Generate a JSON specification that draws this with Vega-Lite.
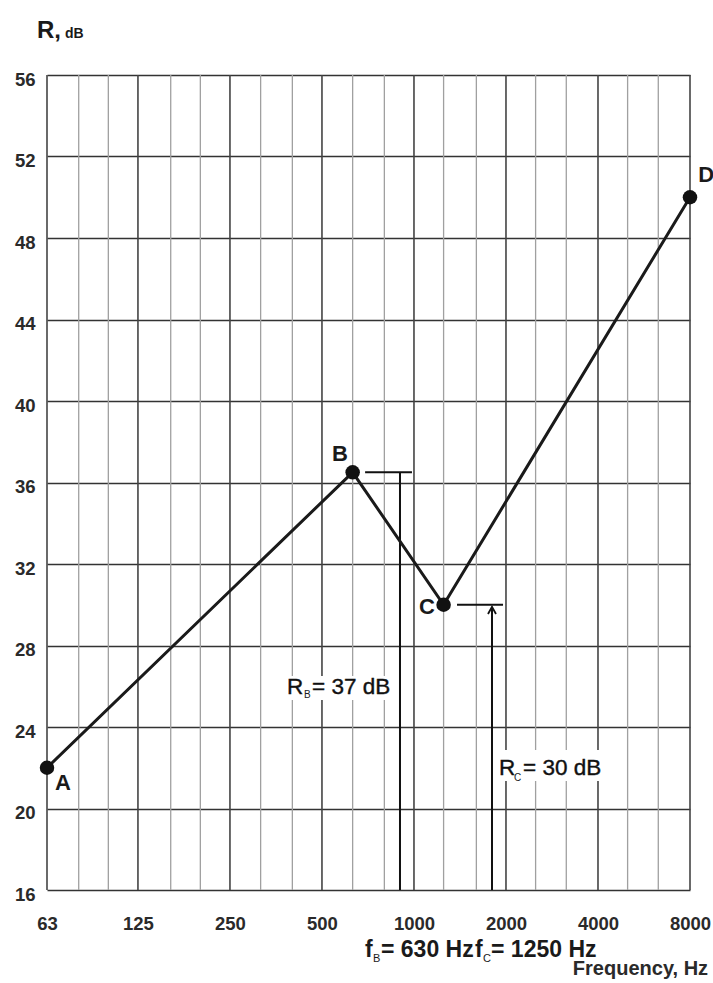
{
  "$schema": "https://vega.github.io/schema/vega-lite/v6.json",
  "width": 643,
  "height": 815,
  "autosize": {"type": "none"},
  "padding": {"left": 47, "top": 75, "right": 23, "bottom": 93},
  "background": "white",
  "config": {"view": {"stroke": null}},
  "datasets": {
    "pts": [
      {"f": 63, "R": 22, "name": "A"},
      {"f": 630, "R": 36.5, "name": "B"},
      {"f": 1250, "R": 30, "name": "C"},
      {"f": 8000, "R": 50, "name": "D"}
    ],
    "grid": [
      {"f": 63, "kind": "octave"}, {"f": 125, "kind": "octave"}, {"f": 250, "kind": "octave"}, {"f": 500, "kind": "octave"},
      {"f": 1000, "kind": "octave"}, {"f": 2000, "kind": "octave"}, {"f": 4000, "kind": "octave"}, {"f": 8000, "kind": "octave"},
      {"f": 80, "kind": "third"}, {"f": 100, "kind": "third"}, {"f": 160, "kind": "third"}, {"f": 200, "kind": "third"},
      {"f": 315, "kind": "third"}, {"f": 400, "kind": "third"}, {"f": 630, "kind": "third"}, {"f": 800, "kind": "third"},
      {"f": 1250, "kind": "third"}, {"f": 1600, "kind": "third"}, {"f": 2500, "kind": "third"}, {"f": 3150, "kind": "third"},
      {"f": 5000, "kind": "third"}, {"f": 6300, "kind": "third"}
    ],
    "annH": [
      {"f": 692, "f2": 985, "R": 36.5},
      {"f": 1383, "f2": 1956, "R": 30}
    ],
    "annV": [
      {"f": 900, "R": 36.5, "R2": 16},
      {"f": 1800, "R": 29.9, "R2": 16}
    ],
    "arrow": [{"f": 1800, "R": 29.9}],
    "masks": [
      {"f": 376, "f2": 874, "R": 26.5, "R2": 25.33},
      {"f": 1869, "f2": 4188, "R": 22.87, "R2": 21.35}
    ],
    "pointLabels": [
      {"f": 71.1, "R": 21.25, "t": "A"},
      {"f": 573, "R": 37.4, "t": "B"},
      {"f": 1103, "R": 29.89, "t": "C"},
      {"f": 9030, "R": 51.09, "t": "D"}
    ],
    "annBig": [
      {"f": 384, "R": 25.62, "t": "R"},
      {"f": 464, "R": 25.62, "t": "= 37 dB"},
      {"f": 1898, "R": 21.64, "t": "R"},
      {"f": 2275, "R": 21.64, "t": "= 30 dB"}
    ],
    "annSub": [
      {"f": 436.7, "R": 25.42, "t": "B"},
      {"f": 2126, "R": 21.35, "t": "C"}
    ],
    "freqBig": [
      {"f": 691.7, "R": 12.71, "t": "f"},
      {"f": 780, "R": 12.71, "t": "= 630 Hz"},
      {"f": 1584, "R": 12.71, "t": "f"},
      {"f": 1787, "R": 12.71, "t": "= 1250 Hz"}
    ],
    "freqSub": [
      {"f": 734.6, "R": 12.47, "t": "B"},
      {"f": 1682, "R": 12.47, "t": "C"}
    ],
    "titleBig": [{"f": 58.4, "R": 57.82, "t": "R,"}],
    "titleSmall": [{"f": 72.1, "R": 57.82, "t": "dB"}],
    "xTitle": [{"f": 9167, "R": 11.83, "t": "Frequency, Hz"}]
  },
  "encoding": {
    "x": {
      "field": "f", "type": "quantitative",
      "scale": {"type": "log", "domain": [63, 8000], "nice": false, "zero": false},
      "axis": {
        "values": [63, 125, 250, 500, 1000, 2000, 4000, 8000],
        "format": "d",
        "title": null,
        "grid": false,
        "domain": false,
        "ticks": false,
        "tickSize": 0,
        "labelPadding": 33,
        "labelBaseline": "middle",
        "labelFont": "Liberation Sans",
        "labelFontSize": 18.5,
        "labelFontWeight": "bold",
        "labelColor": "#2a2a2a",
        "labelFlush": false,
        "labelOverlap": false
      }
    },
    "y": {
      "field": "R", "type": "quantitative",
      "scale": {"domain": [16, 56], "nice": false, "zero": false},
      "axis": {
        "values": [16, 20, 24, 28, 32, 36, 40, 44, 48, 52, 56],
        "title": null,
        "grid": true,
        "gridColor": "#333333",
        "gridWidth": 1.6,
        "domain": false,
        "ticks": false,
        "tickSize": 0,
        "labelPadding": 12,
        "labelBaseline": "middle",
        "labelOffset": 4,
        "labelFont": "Liberation Sans",
        "labelFontSize": 18.5,
        "labelFontWeight": "bold",
        "labelColor": "#2a2a2a",
        "labelOverlap": false
      }
    }
  },
  "layer": [
    {
      "data": {"name": "grid"},
      "transform": [{"filter": "datum.kind === 'third'"}],
      "mark": {"type": "rule", "color": "#a0a0a0", "strokeWidth": 1.3},
      "encoding": {"y": null}
    },
    {
      "data": {"name": "grid"},
      "transform": [{"filter": "datum.kind === 'octave'"}],
      "mark": {"type": "rule", "color": "#444444", "strokeWidth": 1.6},
      "encoding": {"y": null}
    },
    {
      "data": {"name": "masks"},
      "mark": {"type": "rect", "color": "#ffffff"},
      "encoding": {
        "x2": {"field": "f2"},
        "y2": {"field": "R2"}
      }
    },
    {
      "data": {"name": "annH"},
      "mark": {"type": "rule", "color": "#111111", "strokeWidth": 2},
      "encoding": {
        "x2": {"field": "f2"}
      }
    },
    {
      "data": {"name": "annV"},
      "mark": {"type": "rule", "color": "#111111", "strokeWidth": 2},
      "encoding": {
        "y2": {"field": "R2"}
      }
    },
    {
      "data": {"name": "arrow"},
      "mark": {"type": "point", "shape": "M-1,1.8L0,0L1,1.8", "filled": false, "stroke": "#111111", "strokeWidth": 1.8, "size": 64, "opacity": 1}
    },
    {
      "data": {"name": "pts"},
      "mark": {"type": "line", "color": "#1a1a1a", "strokeWidth": 3}
    },
    {
      "data": {"name": "pts"},
      "mark": {"type": "circle", "color": "#111111", "size": 210, "opacity": 1}
    },
    {
      "data": {"name": "pointLabels"},
      "mark": {"type": "text", "font": "Liberation Sans", "fontWeight": "bold", "fontSize": 22, "align": "center", "baseline": "middle", "color": "#1a1a1a"},
      "encoding": {"text": {"field": "t"}}
    },
    {
      "data": {"name": "annBig"},
      "mark": {"type": "text", "font": "Liberation Sans", "fontSize": 22.5, "align": "left", "baseline": "alphabetic", "color": "#111111", "stroke": "#111111", "strokeWidth": 0.4},
      "encoding": {"text": {"field": "t"}}
    },
    {
      "data": {"name": "annSub"},
      "mark": {"type": "text", "font": "Liberation Sans", "fontSize": 10, "align": "left", "baseline": "alphabetic", "color": "#1a1a1a"},
      "encoding": {"text": {"field": "t"}}
    },
    {
      "data": {"name": "freqBig"},
      "mark": {"type": "text", "font": "Liberation Sans", "fontWeight": "bold", "fontSize": 23, "align": "left", "baseline": "alphabetic", "color": "#1a1a1a"},
      "encoding": {"text": {"field": "t"}}
    },
    {
      "data": {"name": "freqSub"},
      "mark": {"type": "text", "font": "Liberation Sans", "fontSize": 11, "align": "left", "baseline": "alphabetic", "color": "#1a1a1a"},
      "encoding": {"text": {"field": "t"}}
    },
    {
      "data": {"name": "titleBig"},
      "mark": {"type": "text", "font": "Liberation Sans", "fontWeight": "bold", "fontSize": 24, "align": "left", "baseline": "alphabetic", "color": "#1a1a1a"},
      "encoding": {"text": {"field": "t"}}
    },
    {
      "data": {"name": "titleSmall"},
      "mark": {"type": "text", "font": "Liberation Sans", "fontWeight": "bold", "fontSize": 14, "align": "left", "baseline": "alphabetic", "color": "#1a1a1a"},
      "encoding": {"text": {"field": "t"}}
    },
    {
      "data": {"name": "xTitle"},
      "mark": {"type": "text", "font": "Liberation Sans", "fontWeight": "bold", "fontSize": 20, "align": "right", "baseline": "alphabetic", "color": "#2a2a2a"},
      "encoding": {"text": {"field": "t"}}
    }
  ]
}
